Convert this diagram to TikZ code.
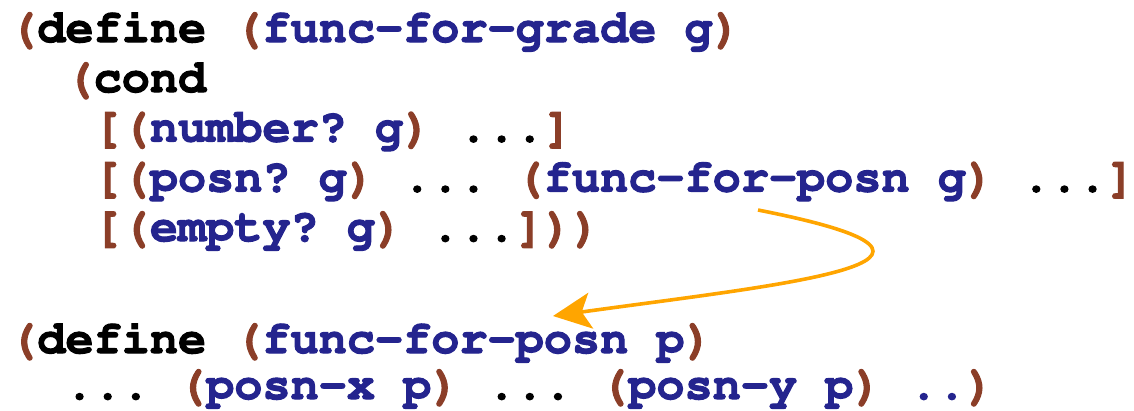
\documentclass[tikz,border=0pt]{standalone}
\usepackage[T1]{fontenc}
\usepackage{courier}
\usepackage{xcolor}
\usetikzlibrary{arrows.meta}

\definecolor{paren}{RGB}{139,62,40}
\definecolor{ident}{RGB}{36,36,142}
\definecolor{callout}{RGB}{255,165,0}
\newcommand{\pr}[1]{\textcolor{paren}{#1}}
\newcommand{\nm}[1]{\textcolor{ident}{#1}}
% heavier strokes, closer to the Courier New Bold of the slides
\newcommand{\heavy}[1]{\special{pdf:literal direct 2 Tr 1.1 w}#1\special{pdf:literal direct 0 Tr}}

\begin{document}
\begin{tikzpicture}[x=1pt,y=1pt,
  code/.style={anchor=base west,inner sep=0pt,
    font=\fontsize{46.9}{52}\selectfont\ttfamily\bfseries\frenchspacing}]
\useasboundingbox (0,0) rectangle (1134,-410);

\coordinate (L1) at (9,-42);
\coordinate (L2) at (65.3,-92);
\coordinate (L3) at (93.4,-141.5);
\coordinate (L4) at (93.4,-191.5);
\coordinate (L5) at (93.4,-241);
\coordinate (L7) at (9,-353);
\coordinate (L8) at (65.3,-399);

\node[code] (defgrade) at (L1) {\heavy{\pr{(}define \pr{(}\nm{func-for-grade g}\pr{)}}};
\node[code] (condln) at (L2) {\heavy{\pr{(}cond}};
\node[code] (numln) at (L3) {\heavy{\pr{[(}\nm{number? g}\pr{)} ...\pr{]}}};
\node[code] (posnln) at (L4) {\heavy{\pr{[(}\nm{posn? g}\pr{)} ... \pr{(}\nm{func-for-posn g}\pr{)} ...\pr{]}}};
\node[code] (emptyln) at (L5) {\heavy{\pr{[(}\nm{empty? g}\pr{)} ...\pr{]))}}};
\node[code] (defposn) at (L7) {\heavy{\pr{(}define \pr{(}\nm{func-for-posn p}\pr{)}}};
\node[code] (bodyln) at (L8) {\heavy{... \pr{(}\nm{posn-x p}\pr{)} ... \pr{(}\nm{posn-y p}\pr{)} \nm{..}\pr{)}}};

% the call jumps to the helper's definition
\coordinate (call) at (758,-210);
\coordinate (helper) at (553,-316);
\draw[callout,line width=3.6pt,-{Stealth[length=38pt,width=36pt,inset=9pt]}]
  (call) .. controls (1022,-262) and (775,-285) .. (helper);
\end{tikzpicture}
\end{document}
